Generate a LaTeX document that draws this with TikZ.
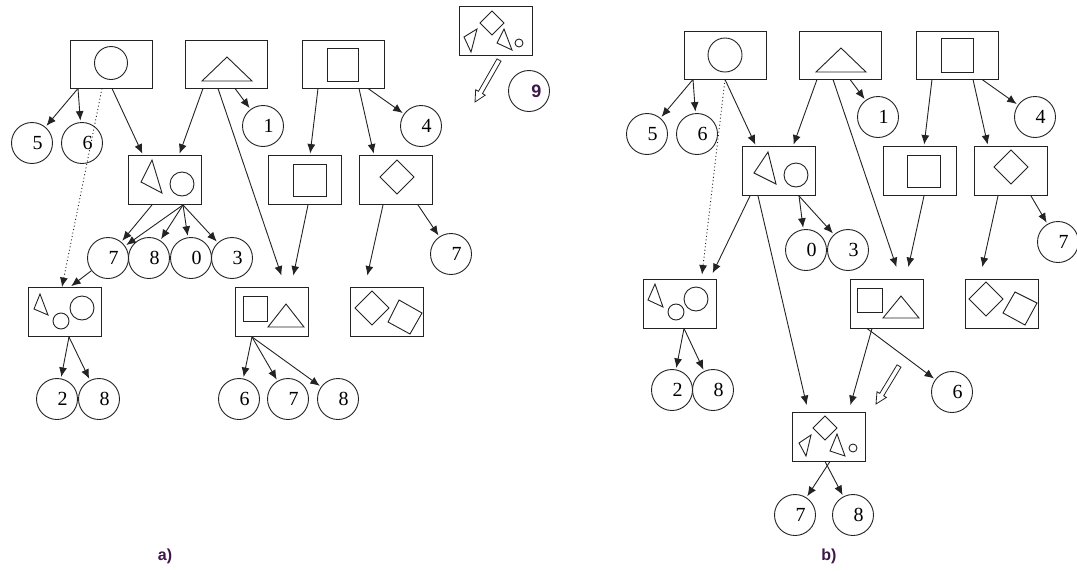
\documentclass[tikz,border=0pt]{standalone}
\usepackage{fontspec}
\setmainfont{Liberation Serif}
\newfontfamily\tagfont{Liberation Sans}
\usetikzlibrary{arrows.meta,calc}
\definecolor{ink}{RGB}{35,35,35}
\definecolor{tagink}{RGB}{62,24,72}

% hollow double-line arrow from #1 to #2
\newcommand\openarrow[2]{%
  \coordinate (oa-h) at ($(#2)!11pt!(#1)$);
  \draw[hollow] ($(#1)!2.3pt!90:(#2)$) -- ($(oa-h)!2.3pt!-90:(#1)$)
    -- ($(oa-h)!5.5pt!-90:(#1)$) -- (#2) -- ($(oa-h)!5.5pt!90:(#1)$)
    -- ($(oa-h)!2.3pt!90:(#1)$) -- ($(#1)!2.3pt!-90:(#2)$) -- cycle;}

\begin{document}
\begin{tikzpicture}[x=1pt,y=-1pt,
  frame/.style={draw=ink, line width=0.9pt, minimum width=73pt, minimum height=49pt, inner sep=0pt},
  topframe/.style={frame, minimum width=82pt, minimum height=48pt},
  num/.style={circle, draw=ink, line width=0.9pt, minimum size=41pt, inner sep=0pt,
    font=\fontsize{20}{20}\selectfont, execute at begin node=\hspace*{11pt}},
  link/.style={draw=ink, line width=0.9pt, shorten >=1.5pt, -{Latex[length=9.5pt,width=8pt]}},
  hint/.style={draw=ink, line width=0.9pt, dash pattern=on 1pt off 2.5pt, -{Latex[length=9.5pt,width=8pt]}},
  glyph/.style={draw=ink, line width=0.9pt},
  hollow/.style={draw=ink, line width=0.8pt, fill=white},
  tag/.style={text=tagink, font=\tagfont\bfseries\fontsize{16}{16}\selectfont, inner sep=0pt}]

\useasboundingbox (0,0) rectangle (1077,571);
\fill[white] (0,0) rectangle (1077,571);

% ================= part a =================
\node[topframe] (A1) at (111,64) {};
\node[topframe] (A2) at (226,64) {};
\node[topframe] (A3) at (343,64) {};
\node[num] (a5) at (32,143) {5};
\node[num] (a6) at (82,143) {6};
\node[num] (a1) at (263,126) {1};
\node[num] (a4) at (421,126) {4};
\node[frame] (A4) at (165,180) {};
\node[frame] (A5) at (305,180) {};
\node[frame] (A6) at (396,180) {};
\node[num] (a7) at (108,258) {7};
\node[num] (a8) at (149,258) {8};
\node[num] (a0) at (191,258) {0};
\node[num] (a3) at (232,258) {3};
\node[num] (a7r) at (451,254) {7};
\node[frame] (A7) at (65,312) {};
\node[frame] (A8) at (272,312) {};
\node[frame] (A9) at (387,312) {};
\node[num] (a2) at (57,399) {2};
\node[num] (a8l) at (99,399) {8};
\node[num] (a6b) at (239,399) {6};
\node[num] (a7b) at (288,399) {7};
\node[num] (a8b) at (338,399) {8};
\node[frame] (L) at (495.5,31) {};
\node[num, font=\tagfont\bfseries\fontsize{18}{18}\selectfont, text=tagink,
      execute at begin node=\hspace*{4pt}] (a9) at (529,91) {9};
\node[tag] (la) at (165,556) {a)};

% box contents
\draw[glyph] (111,63) circle[radius=16.5];
\draw[glyph] (227,57) -- (202,81) -- (252,81) -- cycle;
\draw[glyph] (327,48) rectangle (358,81);
\draw[glyph] (152,160) -- (141,182) -- (162,193) -- cycle;
\draw[glyph] (182,184) circle[radius=12];
\draw[glyph] (293,164) rectangle (326,196);
\draw[glyph] (397,160) -- (414,177) -- (397,194) -- (380,177) -- cycle;
\draw[glyph] (40,294) -- (34,309) -- (48,315) -- cycle;
\draw[glyph] (61,321) circle[radius=8];
\draw[glyph] (82,308) circle[radius=12];
\draw[glyph] (243,296) rectangle (267,321);
\draw[glyph] (268,327) -- (304,327) -- (286,304) -- cycle;
\draw[glyph] (372,291) -- (389,308) -- (372,325) -- (355,308) -- cycle;
\draw[glyph] (399,300) -- (422,313) -- (410,334) -- (388,322) -- cycle;
\draw[glyph] (464,37) -- (477,29) -- (471,52) -- cycle;
\draw[glyph] (492,11) -- (504,23) -- (492,35) -- (480,23) -- cycle;
\draw[glyph] (504,29) -- (497,43) -- (512,50) -- cycle;
\draw[glyph] (519,43) circle[radius=4];

% connectors
\draw[link] ([xshift=-33pt]A1.south) -- (a5);
\draw[link] ([xshift=-33pt]A1.south) -- (a6);
\draw[link] ([xshift=1pt]A1.south) -- ([xshift=-22pt]A4.north);
\draw[hint] ([xshift=-9pt]A1.south) -- ([xshift=-3pt]A7.north);
\draw[link] ([xshift=-23pt]A2.south) -- ([xshift=14pt]A4.north);
\draw[link] ([xshift=-8pt]A2.south) -- ([xshift=10pt,yshift=10pt]A8.north);
\draw[link] ([xshift=9pt]A2.south) -- (a1);
\draw[link] ([xshift=-25pt]A3.south) -- ([xshift=5pt]A5.north);
\draw[link] ([xshift=16pt]A3.south) -- ([xshift=-22pt]A6.north);
\draw[link] ([xshift=25pt]A3.south) -- (a4);
\draw[link] ([xshift=-13pt]A4.south) -- (a7);
\draw[link] ([xshift=18pt]A4.south) -- (a7);
\draw[link] ([xshift=18pt]A4.south) -- (a8);
\draw[link] ([xshift=18pt]A4.south) -- (a0);
\draw[link] ([xshift=18pt]A4.south) -- (a3);
\draw[link] (a7) -- ([xshift=5pt]A7.north);
\draw[link] ([xshift=4pt]A7.south) -- (a2);
\draw[link] ([xshift=4pt]A7.south) -- (a8l);
\draw[link] ([xshift=3pt]A5.south) -- ([xshift=21pt,yshift=10pt]A8.north);
\draw[link] ([xshift=-13pt]A6.south) -- ([xshift=-20pt,yshift=10pt]A9.north);
\draw[link] ([xshift=22pt]A6.south) -- (a7r);
\draw[link] ([xshift=-20pt]A8.south) -- (a6b);
\draw[link] ([xshift=-20pt]A8.south) -- (a7b);
\draw[link] ([xshift=-20pt]A8.south) -- (a8b);
\coordinate (ha1) at (499,60);
\coordinate (ha2) at (475,102);
\openarrow{ha1}{ha2}

% ================= part b =================
\node[topframe] (B1) at (725,55) {};
\node[topframe] (B2) at (840.5,55) {};
\node[topframe] (B3) at (957,55) {};
\node[num] (b5) at (647,134) {5};
\node[num] (b6) at (697,134) {6};
\node[num] (b1) at (878,117) {1};
\node[num] (b4) at (1035,117) {4};
\node[frame] (B4) at (779,171) {};
\node[frame] (B5) at (920,171) {};
\node[frame] (B6) at (1010.5,171) {};
\node[num] (b0) at (806,250) {0};
\node[num] (b3) at (848,250) {3};
\node[num] (b7r) at (1058,242) {7};
\node[frame] (B7) at (680,303.5) {};
\node[frame] (B8) at (886.5,303.5) {};
\node[frame] (B9) at (1002,303.5) {};
\node[num] (b2) at (672,390) {2};
\node[num] (b8) at (713,390) {8};
\node[num] (b6b) at (952,392) {6};
\node[frame] (B10) at (829,436.5) {};
\node[num] (b7) at (795,515) {7};
\node[num] (b8b) at (853,515) {8};
\node[tag] (lb) at (829,556) {b)};

% box contents
\draw[glyph] (725,55) circle[radius=17];
\draw[glyph] (841,48) -- (816,72) -- (866,72) -- cycle;
\draw[glyph] (941,38) rectangle (973,72);
\draw[glyph] (768,152) -- (754,173) -- (776,184) -- cycle;
\draw[glyph] (796,175) circle[radius=12];
\draw[glyph] (907,155) rectangle (940,187);
\draw[glyph] (1011,150) -- (1028,167) -- (1011,184) -- (994,167) -- cycle;
\draw[glyph] (655,284) -- (648,300) -- (663,307) -- cycle;
\draw[glyph] (676,312) circle[radius=8];
\draw[glyph] (696,299) circle[radius=12];
\draw[glyph] (857,288) rectangle (882,312);
\draw[glyph] (883,318) -- (919,318) -- (901,296) -- cycle;
\draw[glyph] (986,282) -- (1003,299) -- (986,316) -- (969,299) -- cycle;
\draw[glyph] (1015,292) -- (1037,303) -- (1025,325) -- (1003,313) -- cycle;
\draw[glyph] (825,416) -- (837,428) -- (825,440) -- (813,428) -- cycle;
\draw[glyph] (811,435) -- (799,443) -- (806,456) -- cycle;
\draw[glyph] (837,434) -- (830,451) -- (845,456) -- cycle;
\draw[glyph] (853,448) circle[radius=4];

% connectors
\draw[link] ([xshift=-32pt]B1.south) -- (b5);
\draw[link] ([xshift=-32pt]B1.south) -- (b6);
\draw[link] (B1.south) -- ([xshift=-23pt]B4.north);
\draw[hint] (B1.south) -- ([xshift=22pt,yshift=4pt]B7.north);
\draw[link] ([xshift=-23.5pt]B2.south) -- ([xshift=14pt]B4.north);
\draw[link] ([xshift=-7.5pt]B2.south) -- ([xshift=10.5pt,yshift=10pt]B8.north);
\draw[link] ([xshift=9.5pt]B2.south) -- (b1);
\draw[link] ([xshift=-25pt]B3.south) -- ([xshift=4pt]B5.north);
\draw[link] ([xshift=16pt]B3.south) -- ([xshift=-22.5pt]B6.north);
\draw[link] ([xshift=25pt]B3.south) -- (b4);
\draw[link] ([xshift=-29pt]B4.south) -- ([xshift=32pt,yshift=4pt]B7.north);
\draw[link] ([xshift=-21pt]B4.south) -- ([xshift=-22pt,yshift=5pt]B10.north);
\draw[link] ([xshift=20pt]B4.south) -- (b0);
\draw[link] ([xshift=20pt]B4.south) -- (b3);
\draw[link] ([xshift=4pt]B5.south) -- ([xshift=21.5pt,yshift=10pt]B8.north);
\draw[link] ([xshift=-12.5pt]B6.south) -- ([xshift=-20pt,yshift=10pt]B9.north);
\draw[link] ([xshift=20.5pt]B6.south) -- (b7r);
\draw[link] ([xshift=4pt]B7.south) -- (b2);
\draw[link] ([xshift=4pt]B7.south) -- (b8);
\draw[link] ([xshift=-19.5pt]B8.south) -- (b6b);
\draw[link] ([xshift=-14.5pt]B8.south) -- ([xshift=21pt,yshift=5pt]B10.north);
\draw[link] ([xshift=1pt]B10.south) -- (b7);
\draw[link] ([xshift=-4pt]B10.south) -- (b8b);
\coordinate (hb1) at (899,366);
\coordinate (hb2) at (876,404);
\openarrow{hb1}{hb2}
\end{tikzpicture}
\end{document}
